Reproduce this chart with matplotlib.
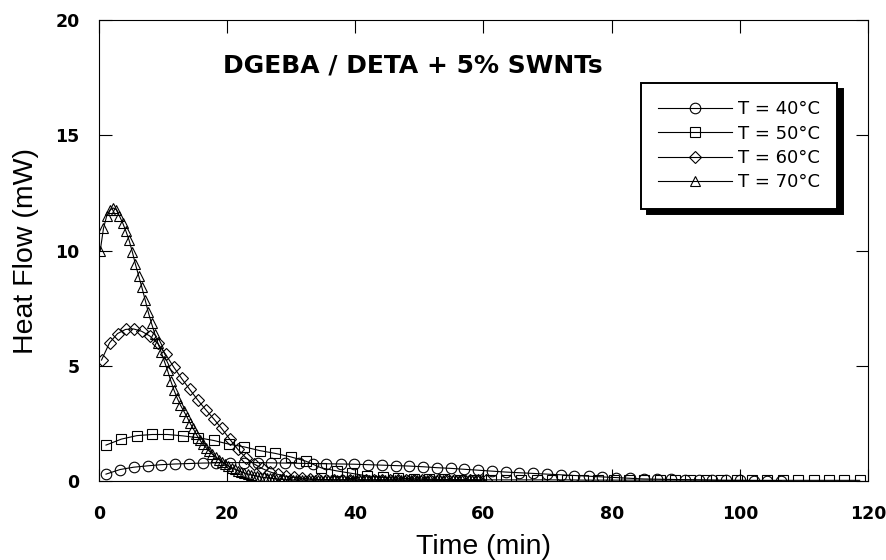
#!/usr/bin/env python3
"""Plots DSC isothermal heat flow curves of DGEBA / DETA + 5% SWNTs

Usage: python3 plot.py
"""

from matplotlib import pyplot as plt

# Time axis of each isotherm [min]
time_40 = [1.1, 3.3, 5.4, 7.6, 9.7, 11.9, 14.0, 16.2, 18.3, 20.5,
           22.6, 24.8, 26.9, 29.1, 31.2, 33.4, 35.5, 37.7, 39.8, 42.0,
           44.1, 46.3, 48.4, 50.6, 52.7, 54.9, 57.0, 59.2, 61.3, 63.5,
           65.6, 67.8, 69.9, 72.1, 74.2, 76.4, 78.5, 80.7, 82.8, 85.0,
           87.1, 89.3, 91.4, 93.6, 95.7, 97.9, 100.0, 102.2, 104.3, 106.5]
time_50 = [1.1, 3.5, 5.9, 8.3, 10.7, 13.1, 15.5, 17.9, 20.3, 22.7,
           25.1, 27.5, 29.9, 32.3, 34.7, 37.1, 39.5, 41.9, 44.3, 46.7,
           49.1, 51.5, 53.9, 56.3, 58.7, 61.1, 63.5, 65.9, 68.3, 70.7,
           73.1, 75.5, 77.9, 80.3, 82.7, 85.1, 87.5, 89.9, 92.3, 94.7,
           97.1, 99.5, 101.9, 104.3, 106.7, 109.1, 111.5, 113.9, 116.3, 118.7]
time_60 = [0.4, 1.65, 2.9, 4.15, 5.4, 6.65, 7.9, 9.15, 10.4, 11.65,
           12.9, 14.15, 15.4, 16.65, 17.9, 19.15, 20.4, 21.65, 22.9, 24.15,
           25.4, 26.65, 27.9, 29.15, 30.4, 31.65, 32.9, 34.15, 35.4, 36.65,
           37.9, 39.15, 40.4, 41.65, 42.9, 44.15, 45.4, 46.65, 47.9, 49.15,
           50.4, 51.65, 52.9, 54.15, 55.4, 56.65, 57.9, 59.15, 60.4]
time_70 = [0.2, 0.7, 1.2, 1.7, 2.2, 2.7, 3.2, 3.7, 4.2, 4.7,
           5.2, 5.7, 6.2, 6.7, 7.2, 7.7, 8.2, 8.7, 9.2, 9.7,
           10.2, 10.7, 11.2, 11.7, 12.2, 12.7, 13.2, 13.7, 14.2, 14.7,
           15.2, 15.7, 16.2, 16.7, 17.2, 17.7, 18.2, 18.7, 19.2, 19.7,
           20.2, 20.7, 21.2, 21.7, 22.2, 22.7, 23.2, 23.7, 24.2, 24.7,
           25.2, 25.7, 26.2, 26.7, 27.2, 27.7, 28.2, 28.7, 29.2, 29.7,
           30.2, 30.7, 31.2, 31.7, 32.2, 32.7, 33.2, 33.7, 34.2, 34.7,
           35.2, 35.7, 36.2, 36.7, 37.2, 37.7, 38.2, 38.7, 39.2, 39.7,
           40.2, 40.7, 41.2, 41.7, 42.2, 42.7, 43.2, 43.7, 44.2, 44.7,
           45.2, 45.7, 46.2, 46.7, 47.2, 47.7, 48.2, 48.7, 49.2, 49.7,
           50.2, 50.7, 51.2, 51.7, 52.2, 52.7, 53.2, 53.7, 54.2, 54.7,
           55.2, 55.7, 56.2, 56.7, 57.2, 57.7, 58.2, 58.7, 59.2, 59.7]

# Heat flow of each isotherm [mW]
flow_40 = [0.30, 0.50, 0.60, 0.66, 0.71, 0.74, 0.76, 0.78, 0.79, 0.80,
           0.80, 0.80, 0.79, 0.78, 0.77, 0.76, 0.75, 0.74, 0.73, 0.71,
           0.69, 0.67, 0.65, 0.62, 0.58, 0.55, 0.51, 0.47, 0.43, 0.39,
           0.36, 0.33, 0.30, 0.27, 0.24, 0.21, 0.18, 0.15, 0.12, 0.09,
           0.08, 0.07, 0.06, 0.05, 0.04, 0.03, 0.03, 0.02, 0.02, 0.01]
flow_50 = [1.56, 1.82, 1.97, 2.02, 2.02, 1.96, 1.88, 1.76, 1.60, 1.48,
           1.32, 1.20, 1.05, 0.86, 0.57, 0.44, 0.33, 0.22, 0.16, 0.12,
           0.10, 0.08, 0.07, 0.06, 0.05, 0.05, 0.05, 0.05, 0.05, 0.05,
           0.05, 0.04, 0.04, 0.04, 0.04, 0.04, 0.04, 0.04, 0.04, 0.04,
           0.03, 0.03, 0.03, 0.03, 0.03, 0.03, 0.03, 0.03, 0.03, 0.03]
flow_60 = [5.25, 6.00, 6.40, 6.58, 6.60, 6.50, 6.30, 5.98, 5.50, 4.95,
           4.45, 3.98, 3.52, 3.10, 2.70, 2.28, 1.82, 1.38, 1.02, 0.75,
           0.55, 0.40, 0.29, 0.21, 0.16, 0.12, 0.09, 0.07, 0.06, 0.05,
           0.05, 0.05, 0.05, 0.05, 0.05, 0.05, 0.05, 0.05, 0.04, 0.04,
           0.04, 0.04, 0.04, 0.04, 0.04, 0.04, 0.04, 0.04, 0.04]
flow_70 = [10.00, 10.96, 11.50, 11.76, 11.85, 11.78, 11.50, 11.20, 10.85, 10.45,
           9.95, 9.40, 8.90, 8.40, 7.87, 7.32, 6.84, 6.40, 5.98, 5.60,
           5.20, 4.80, 4.35, 3.95, 3.60, 3.30, 3.05, 2.80, 2.52, 2.28,
           2.02, 1.80, 1.60, 1.45, 1.30, 1.16, 1.04, 0.93, 0.83, 0.73,
           0.65, 0.58, 0.51, 0.45, 0.40, 0.35, 0.31, 0.27, 0.24, 0.21,
           0.18, 0.16, 0.14, 0.12, 0.11, 0.09, 0.08, 0.07, 0.06, 0.06,
           0.05, 0.05, 0.05, 0.05, 0.05, 0.05, 0.05, 0.05, 0.05, 0.05,
           0.05, 0.05, 0.05, 0.05, 0.05, 0.05, 0.05, 0.05, 0.05, 0.05,
           0.04, 0.04, 0.04, 0.04, 0.04, 0.04, 0.04, 0.04, 0.04, 0.04,
           0.04, 0.04, 0.04, 0.04, 0.04, 0.04, 0.04, 0.04, 0.04, 0.04,
           0.04, 0.04, 0.04, 0.04, 0.04, 0.04, 0.04, 0.04, 0.04, 0.04,
           0.03, 0.03, 0.03, 0.03, 0.03, 0.03, 0.03, 0.03, 0.03, 0.03]

labels = ["T = 40°C", "T = 50°C", "T = 60°C", "T = 70°C"]
title = "DGEBA / DETA + 5% SWNTs"
x_ticks = [0, 20, 40, 60, 80, 100, 120]
y_ticks = [0, 5, 10, 15, 20]


def main():
    """Draws the four isotherms and saves out.png
    """
    fig = plt.figure(figsize=(8.86, 5.6), dpi=100)
    ax = fig.add_axes([0.1117, 0.141, 0.868, 0.823])

    # Curves, open markers with a thin line through them
    series = [
        (time_40, flow_40, "o", 7.6),
        (time_50, flow_50, "s", 6.8),
        (time_60, flow_60, "D", 6.0),
        (time_70, flow_70, "^", 7.2),
    ]
    for (t, q, marker, size), label in zip(series, labels):
        ax.plot(t, q, color="black", linewidth=0.8, marker=marker,
                markersize=size, markerfacecolor="none",
                markeredgecolor="black", markeredgewidth=0.8, label=label)

    # Axes limits and ticks
    ax.set_xlim(0, 120)
    ax.set_ylim(0, 20)
    ax.set_xticks(x_ticks)
    ax.set_yticks(y_ticks)
    ax.tick_params(direction="in", length=9, width=0.8, top=True, right=True)
    ax.tick_params(axis="x", pad=17)
    ax.tick_params(axis="y", pad=14)
    for lbl in ax.get_xticklabels() + ax.get_yticklabels():
        lbl.set_fontfamily("DejaVu Sans")
        lbl.set_fontweight("bold")
        lbl.set_fontsize(12.5)
    for spine in ax.spines.values():
        spine.set_linewidth(0.8)

    # Labels
    ax.set_xlabel("Time (min)", fontsize=20.5, family="Liberation Sans", labelpad=8)
    ax.set_ylabel("Heat Flow (mW)", fontsize=20.5, family="Liberation Sans", labelpad=12)
    ax.text(49, 18.05, title, ha="center", va="center", fontsize=18,
            fontweight="bold", family="DejaVu Sans")

    # Legend with a hard black drop shadow
    leg = ax.legend(loc="upper right", bbox_to_anchor=(0.96, 0.863),
                    borderaxespad=0, fancybox=False, framealpha=1,
                    edgecolor="black", handlelength=4.1, handletextpad=0.33,
                    labelspacing=0.35, borderpad=0.95,
                    prop={"family": "DejaVu Sans", "size": 13},
                    shadow={"ox": 4, "oy": -4, "color": "black", "alpha": 1})
    leg.get_frame().set_linewidth(1.4)

    fig.savefig("out.png", dpi=100)


if __name__ == "__main__":
    main()
